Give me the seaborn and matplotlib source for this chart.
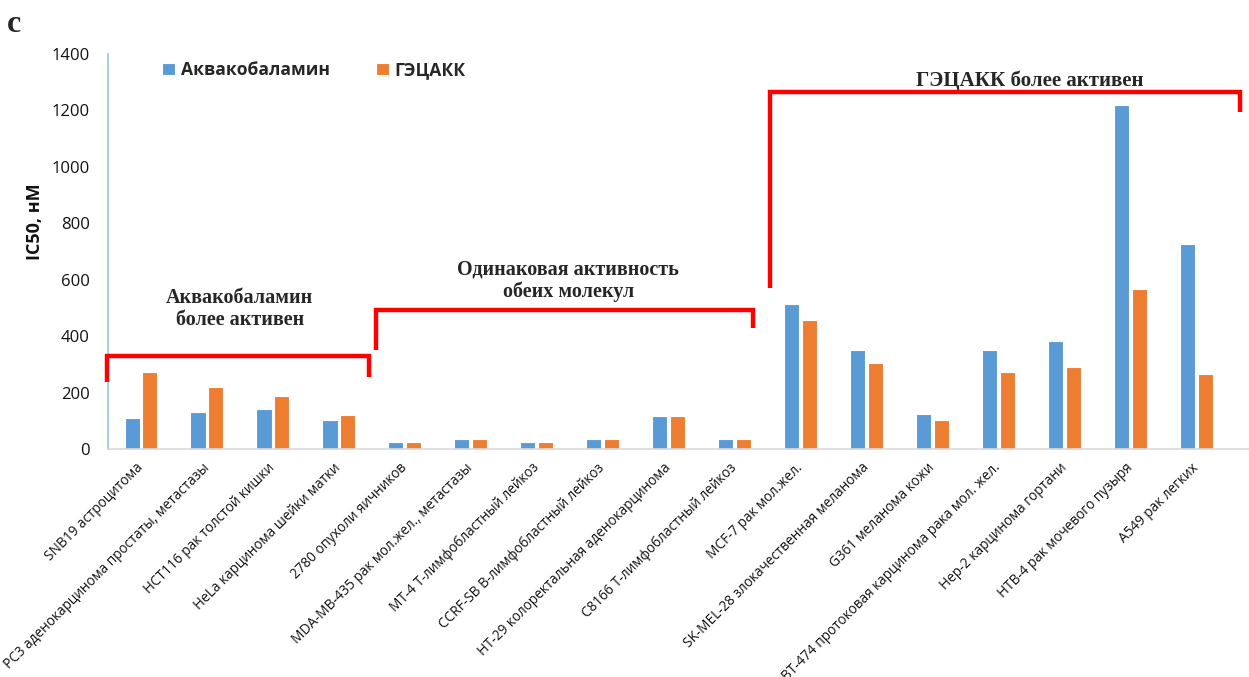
import matplotlib
matplotlib.use("Agg")
import matplotlib.pyplot as plt
import seaborn as sns
import pandas as pd

# Cell lines (x categories)
cell_lines = [
    "SNB19 астроцитома",
    "PC3 аденокарцинома простаты, метастазы",
    "HCT116 рак толстой кишки",
    "HeLa карцинома шейки матки",
    "2780 опухоли яичников",
    "MDA-MB-435 рак мол.жел., метастазы",
    "MT-4 T-лимфобластный лейкоз",
    "CCRF-SB B-лимфобластный лейкоз",
    "HT-29 колоректальная аденокарцинома",
    "C8166 T-лимфобластный лейкоз",
    "MCF-7 рак мол.жел.",
    "SK-MEL-28 злокачественная меланома",
    "G361 меланома кожи",
    "BT-474 протоковая карцинома рака мол. жел.",
    "Hep-2 карцинома гортани",
    "HTB-4 рак мочевого пузыря",
    "A549 рак легких",
]

series_names = ["Аквакобаламин", "ГЭЦАКК"]

# IC50 values, nM
aquacobalamin = [110, 130, 142, 103, 25, 36, 26, 36, 117, 36,
                 514, 351, 125, 351, 383, 1219, 727]
gecakk = [273, 220, 187, 120, 26, 36, 26, 36, 117, 36,
          457, 305, 102, 273, 291, 568, 266]

y_ticks = [0, 200, 400, 600, 800, 1000, 1200, 1400]

colors = ["#5B9BD5", "#ED7D31"]

df = pd.DataFrame({
    "line": cell_lines * 2,
    "ic50": aquacobalamin + gecakk,
    "compound": [series_names[0]] * len(cell_lines) + [series_names[1]] * len(cell_lines),
})

sns.set_theme(style="white")
plt.rcParams["font.family"] = ["Open Sans", "DejaVu Sans"]

fig = plt.figure(figsize=(12.49, 6.77), dpi=100)
ax = fig.add_axes([108 / 1249, (677 - 449) / 677, 1 - 108 / 1249, 395 / 677])

sns.barplot(data=df, x="line", y="ic50", hue="compound", palette=colors,
            saturation=1, width=0.54, gap=0.15, edgecolor="white", linewidth=0.8,
            errorbar=None, ax=ax)

ax.set_xlim(-0.5, 16.8)
ax.set_ylim(0, 1400)
ax.set_yticks(y_ticks)
ax.set_yticklabels([str(t) for t in y_ticks], fontsize=12, color="#111111")
ax.set_xlabel("")
ax.set_ylabel("IC50, нМ", fontsize=13, fontweight="bold", color="#111111")
ax.yaxis.set_label_coords((44 - 108) / 1141, 0.575)

ax.set_xticks(range(len(cell_lines)))
ax.set_xticklabels(cell_lines, rotation=45, ha="right", va="center",
                   rotation_mode="anchor", fontsize=9.8, color="#111111")
ax.tick_params(axis="x", length=0, pad=12)
ax.tick_params(axis="y", length=5, width=1, color="#9DC3E6", direction="out", pad=8)

for side in ["top", "right"]:
    ax.spines[side].set_visible(False)
ax.spines["left"].set_color("#9DC3E6")
ax.spines["left"].set_linewidth(1.2)
ax.spines["bottom"].set_color("#D9D9D9")
ax.spines["bottom"].set_linewidth(1.2)

# Legend across the top of the plot
handles, labels = ax.get_legend_handles_labels()
ax.legend(handles, labels, ncol=2, frameon=False, loc="upper left",
          bbox_to_anchor=(38 / 1141, 1.022), prop={"weight": "bold", "size": 12.6},
          handlelength=0.75, handleheight=0.75, handletextpad=0.35,
          columnspacing=2.6)

# Red brackets grouping cell lines by relative activity
red = "#FF0000"
brackets = [
    # x_left, x_right, y_top, y_left_end, y_right_end
    (-0.515, 3.457, 328, 237, 255),
    (3.56, 9.28, 494, 351, 429),
    (9.54, 16.67, 1265, 571, 1194),
]
for xl, xr, yt, yle, yre in brackets:
    ax.plot([xl, xl, xr, xr], [yle, yt, yt, yre], color=red, lw=3.2,
            solid_joinstyle="miter", solid_capstyle="butt", clip_on=False, zorder=5)

serif = ["Liberation Serif", "DejaVu Serif"]
ax.text(1.5, 497, "Аквакобаламин\nболее активен", ha="center", va="center",
        fontsize=14.5, fontweight="bold", family=serif, linespacing=1.1)
ax.text(6.48, 596, "Одинаковая активность\nобеих молекул", ha="center", va="center",
        fontsize=14.5, fontweight="bold", family=serif, linespacing=1.1)
ax.text(13.48, 1305, "ГЭЦАКК более активен", ha="center", va="center",
        fontsize=15, fontweight="bold", family=serif)

# Panel letter
fig.text(7 / 1249, 1 - 24 / 677, "c", ha="left", va="center",
         fontsize=23, fontweight="bold", family=serif)

fig.savefig("out.png", dpi=100)
